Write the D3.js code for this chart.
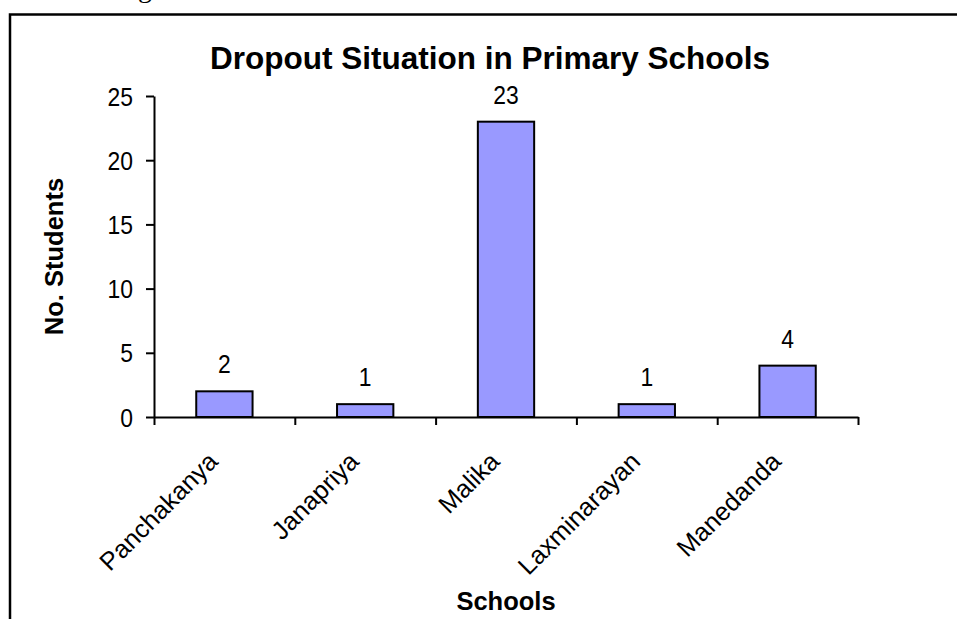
<!DOCTYPE html>
<html>
<head>
<meta charset="utf-8">
<script src="https://cdn.jsdelivr.net/npm/d3@7"></script>
<style>
  html, body { margin: 0; padding: 0; background: #fff; }
  svg { display: block; }
  text { font-family: "Liberation Sans", Arial, sans-serif; fill: #000; }
</style>
</head>
<body>
<svg id="chart" width="957" height="619"></svg>
<script>
// Dropouts per school
const categories = ["Panchakanya", "Janapriya", "Malika", "Laxminarayan", "Manedanda"];
const dropouts = [2, 1, 23, 1, 4];
const yTicks = [0, 5, 10, 15, 20, 25];

const svg = d3.select("#chart");
const W = 957, H = 619;
const plot = { left: 154, right: 858, top: 96, bottom: 417 };

// Frame around the chart area
svg.append("path")
  .attr("d", `M10,${H} L10,14.5 L${W},14.5`)
  .attr("fill", "none").attr("stroke", "#000").attr("stroke-width", 2.5);

// Tail of the preceding line of text above the frame
svg.append("text")
  .attr("x", 138).attr("y", -3.5)
  .style("font-family", "'Liberation Serif', 'Times New Roman', serif")
  .style("font-size", "28px")
  .text("g");

const x = d3.scaleBand().domain(categories).range([plot.left, plot.right]).padding(0);
const y = d3.scaleLinear().domain([0, 25]).range([plot.bottom, plot.top]);
const xEdges = d3.scaleLinear().domain([0, categories.length]).range([plot.left, plot.right]);

const barW = x.bandwidth() * 0.4;

// Bars
svg.append("g").selectAll("rect")
  .data(categories)
  .join("rect")
  .attr("x", (d) => x(d) + (x.bandwidth() - barW) / 2)
  .attr("y", (d, i) => y(dropouts[i]))
  .attr("width", barW)
  .attr("height", (d, i) => y(0) - y(dropouts[i]))
  .attr("fill", "#9999FF")
  .attr("stroke", "#000")
  .attr("stroke-width", 2);

// Value labels
svg.append("g").selectAll("text")
  .data(categories)
  .join("text")
  .attr("text-anchor", "middle")
  .attr("transform", (d, i) => `translate(${x(d) + x.bandwidth() / 2},${y(dropouts[i]) - 18}) scale(0.88,1)`)
  .style("font-size", "26px")
  .text((d, i) => dropouts[i]);

// Y axis
const yAxis = svg.append("g")
  .attr("transform", `translate(${plot.left},0)`)
  .call(d3.axisLeft(y).tickValues(yTicks).tickSize(8).tickSizeOuter(0));
yAxis.selectAll("path, line").attr("stroke", "#000").attr("stroke-width", 2);
yAxis.selectAll("text")
  .attr("x", null).attr("dy", null)
  .attr("dominant-baseline", "central")
  .attr("text-anchor", "end")
  .attr("transform", "translate(-21,0) scale(0.88,1)")
  .style("font-family", "'Liberation Sans', Arial, sans-serif")
  .style("font-size", "26px")
  .attr("fill", "#000");

// X axis with ticks on category boundaries
const xAxis = svg.append("g")
  .attr("transform", `translate(0,${plot.bottom})`)
  .call(d3.axisBottom(xEdges).tickValues(d3.range(categories.length + 1)).tickFormat("").tickSize(8).tickSizeOuter(0));
xAxis.selectAll("path, line").attr("stroke", "#000").attr("stroke-width", 2);

// Rotated category labels
svg.append("g").selectAll("text")
  .data(categories)
  .join("text")
  .attr("text-anchor", "end")
  .attr("transform", (d) => `translate(${x(d) + x.bandwidth() / 2 - 5},${plot.bottom + 46}) rotate(-45)`)
  .style("font-size", "25.5px")
  .text((d) => d);

// Title
svg.append("text")
  .attr("x", 490).attr("y", 69)
  .attr("text-anchor", "middle")
  .style("font-size", "31.5px").style("font-weight", "bold")
  .text("Dropout Situation in Primary Schools");

// Axis titles
svg.append("text")
  .attr("x", (plot.left + plot.right) / 2).attr("y", 610)
  .attr("text-anchor", "middle")
  .style("font-size", "25.5px").style("font-weight", "bold")
  .text("Schools");

svg.append("text")
  .attr("transform", `translate(63,${(plot.top + plot.bottom) / 2}) rotate(-90)`)
  .attr("text-anchor", "middle")
  .style("font-size", "25.5px").style("font-weight", "bold")
  .text("No. Students");
</script>
</body>
</html>
